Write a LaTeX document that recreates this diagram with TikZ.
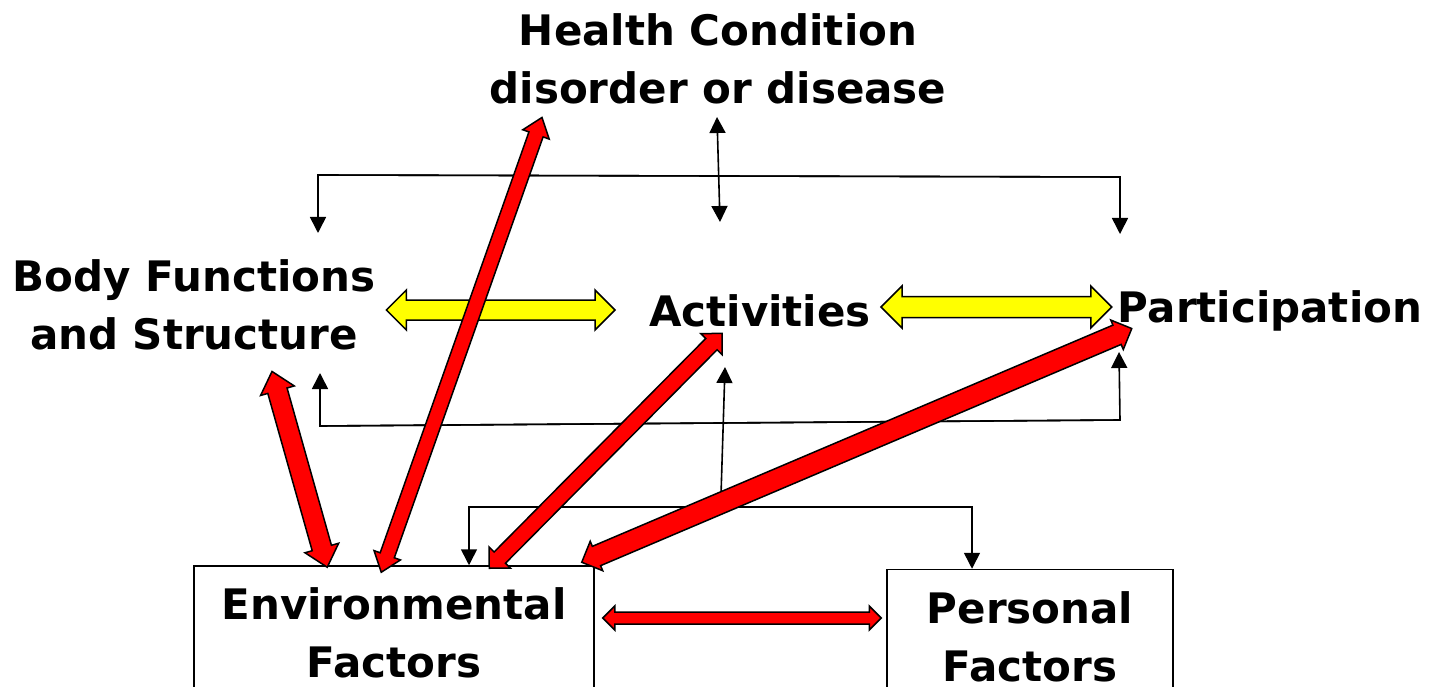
\documentclass[tikz,border=0pt]{standalone}
\usepackage{fontspec}
\setmainfont{DejaVu Sans}
\usetikzlibrary{calc,arrows.meta}

\definecolor{arrowred}{RGB}{255,0,0}
\definecolor{arrowyellow}{RGB}{255,255,0}

\tikzset{
  term/.style={font=\bfseries\fontsize{42}{58}\selectfont, align=center, inner sep=0pt},
  factorbox/.style={term, draw, line width=1.5pt},
  link/.style={line width=1.6pt},
  linktip/.style={link, -{Triangle[width=16pt,length=16pt]}},
  redarrow/.style={fill=arrowred, draw=black, line width=1.5pt},
  yellowarrow/.style={fill=arrowyellow, draw=black, line width=1.5pt}
}

% block arrow with two heads: style, from, to, head length, head half width, shaft half width
\newcommand{\fatarrow}[6]{%
  \coordinate (fa-a) at #2;
  \coordinate (fa-b) at #3;
  \coordinate (fa-p) at ($(fa-a)!#4!(fa-b)$);
  \coordinate (fa-q) at ($(fa-b)!#4!(fa-a)$);
  \draw[#1] (fa-a) -- ($(fa-p)!#5!90:(fa-b)$) -- ($(fa-p)!#6!90:(fa-b)$)
    -- ($(fa-q)!#6!-90:(fa-a)$) -- ($(fa-q)!#5!-90:(fa-a)$) -- (fa-b)
    -- ($(fa-q)!#5!90:(fa-a)$) -- ($(fa-q)!#6!90:(fa-a)$)
    -- ($(fa-p)!#6!-90:(fa-b)$) -- ($(fa-p)!#5!-90:(fa-b)$) -- cycle;
}

\begin{document}
\begin{tikzpicture}[x=1pt, y=-1pt]
\useasboundingbox (0,0) rectangle (1429,687);

% components
\node[term] (hc) at (718,59) {Health Condition\\disorder or disease};
\node[term] (body) at (194,305) {Body Functions\\and Structure};
\node[term] (act) at (760,311) {Activities};
\node[term] (part) at (1270,311) {Participation};
\node[factorbox, minimum width=400pt, minimum height=134pt] (env) at (394,633) {Environmental\\Factors};
\node[factorbox, minimum width=286pt, minimum height=135pt] (pers) at (1030,637) {Personal\\Factors};

% thin links
\coordinate (hcup) at (717,117);
\coordinate (hcdown) at (720,222);
\coordinate (topleft) at (318,175);
\coordinate (topright) at (1120,177);
\coordinate (bodytop) at (318,233);
\coordinate (parttop) at (1120,234);
\coordinate (lowleft) at (320,426);
\coordinate (lowright) at (1120,420);
\coordinate (bodybottom) at (320,373);
\coordinate (partbottom) at (1119,352);
\coordinate (actfoot) at (721,495);
\coordinate (actbottom) at (725,367);
\coordinate (ctxleft) at (469,507);
\coordinate (ctxright) at (972,507);

\draw[link, {Triangle[width=16pt,length=16pt]}-{Triangle[width=16pt,length=16pt]}] (hcup) -- (hcdown);
\draw[linktip] (topright) -- (topleft) -- (bodytop);
\draw[linktip] (topleft) -- (topright) -- (parttop);
\draw[linktip] (lowright) -- (lowleft) -- (bodybottom);
\draw[linktip] (lowleft) -- (lowright) -- (partbottom);
\draw[linktip] (actfoot) -- (actbottom);
\draw[linktip] (ctxright) -- (ctxleft) -- (ctxleft |- env.north);
\draw[linktip] (ctxleft) -- (ctxright) -- (ctxright |- pers.north);

% yellow arrows
\fatarrow{yellowarrow}{($(body.east)+(11,5)$)}{($(act.west)+(-34,-1)$)}{20pt}{20pt}{10pt}
\fatarrow{yellowarrow}{($(act.east)+(10,-4)$)}{($(part.west)+(-6,-4)$)}{21pt}{21pt}{10.5pt}

% red arrows
\fatarrow{redarrow}{($(body.south)+(78,21)$)}{($(env.north west)+(134,2)$)}{20pt}{17.5pt}{10pt}
\fatarrow{redarrow}{($(hc.south)+(-176,13)$)}{($(env.north west)+(188,7)$)}{18pt}{14pt}{7.5pt}
\fatarrow{redarrow}{($(act.south)+(-38,6)$)}{($(env.north west)+(296,3)$)}{15pt}{15pt}{8pt}
\fatarrow{redarrow}{($(part.south west)+(14,-3)$)}{($(env.north east)+(-13,-3)$)}{16pt}{16pt}{10.5pt}
\fatarrow{redarrow}{($(env.east)+(8,-15)$)}{($(pers.west)+(-5,-19)$)}{12pt}{12pt}{6pt}
\end{tikzpicture}
\end{document}
